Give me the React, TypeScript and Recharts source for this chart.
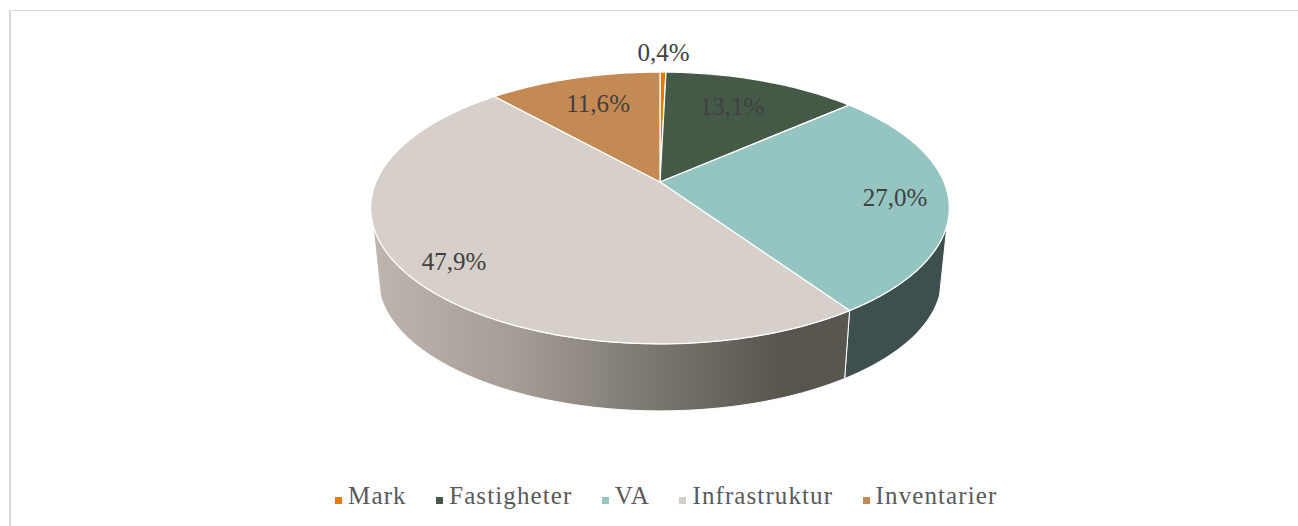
import React from 'react';
import { PieChart, Pie, Legend } from 'recharts';

const categories = ['Mark', 'Fastigheter', 'VA', 'Infrastruktur', 'Inventarier'];
const shares = [0.4, 13.1, 27.0, 47.9, 11.6];
const topColors = ['#e47a00', '#445a46', '#95c5c1', '#d7cfc9', '#c48a53'];
const wallColors = ['#8a4a00', '#2a382b', '#3d4f4e', 'url(#infraWall)', '#7d5b35'];
// where each label sits: fraction of the radius, and degrees off the slice middle
const labelRadius = [1.224, 0.712, 0.818, 0.846, 0.716];
const labelTurn = [0, -1.4, 0.7, -1.8, 0.8];

const FONT = '"Liberation Serif", serif';
const TILT = -0.191; // perspective of the tilted disc
const FLATTEN = 0.461;
const DEPTH_SCALE = 0.974; // bottom rim is a bit further away
const VANISH_Y = 2923;
const WALL_FROM = 108; // only this part of the side is visible
const WALL_TO = 252;

const tableData = categories.map((name, i) => ({ name, value: shares[i], fill: topColors[i] }));

// pie plane -> screen, theta is degrees clockwise from 12 o'clock
const project = (cx: number, cy: number, r: number, theta: number, f = 1) => {
    const rad = (theta * Math.PI) / 180;
    const v = Math.sin(rad) * f;
    const u = -Math.cos(rad) * f;
    const d = 1 + TILT * u;
    return { x: cx + (r * v) / d, y: cy + (r * FLATTEN * u) / d };
};

const rim = (p: any, from: number, to: number) => {
    const pts = [];
    const steps = Math.max(2, Math.ceil(to - from));
    for (let i = 0; i <= steps; i++) {
        pts.push(project(p.cx, p.cy, p.outerRadius, from + ((to - from) * i) / steps));
    }
    return pts;
};

const TopFace = (p: any) => {
    const pts = rim(p, 90 - p.startAngle, 90 - p.endAngle);
    const d = `M${p.cx},${p.cy} ` + pts.map((q) => `L${q.x},${q.y}`).join(' ') + ' Z';
    return <path d={d} fill={p.fill} stroke="#fff" strokeWidth={1.25} strokeLinejoin="round" />;
};

const WallFace = (p: any) => {
    const from = Math.max(90 - p.startAngle, WALL_FROM);
    const to = Math.min(90 - p.endAngle, WALL_TO);
    if (to <= from) return <g />;
    const pts = rim(p, from, to);
    const lower = pts
        .map((q) => ({
            x: p.cx + DEPTH_SCALE * (q.x - p.cx),
            y: VANISH_Y + DEPTH_SCALE * (q.y - VANISH_Y),
        }))
        .reverse();
    const d = 'M' + [...pts, ...lower].map((q) => `${q.x},${q.y}`).join(' L') + ' Z';
    return <path d={d} fill={wallColors[p.index]} stroke="#fff" strokeWidth={1} strokeLinejoin="round" />;
};

const renderLabel = (p: any) => {
    const pos = project(p.cx, p.cy, p.outerRadius, 90 - p.midAngle + labelTurn[p.index], labelRadius[p.index]);
    return (
        <text
            x={pos.x}
            y={pos.y}
            textAnchor="middle"
            dominantBaseline="central"
            fontFamily={FONT}
            fontSize={25}
            fill="#404040"
        >
            {shares[p.index].toFixed(1).replace('.', ',')}%
        </text>
    );
};

const legendText = (value: string) => (
    <span style={{ color: '#595959', fontFamily: FONT, fontSize: 25, letterSpacing: 1.1, marginLeft: 2, marginRight: 19.5 }}>
        {value}
    </span>
);

export default function App() {
    return (
        <div style={{ position: 'absolute', left: 0, top: 0, width: 1298, height: 526, background: '#fff', overflow: 'hidden' }}>
            <div
                style={{
                    position: 'absolute',
                    left: 9,
                    top: 10,
                    width: 1289,
                    height: 516,
                    boxSizing: 'border-box',
                    borderLeft: '2px solid #d9d9d9',
                    borderTop: '1.5px solid #d9d9d9',
                }}
            />
            <div style={{ position: 'absolute', left: 0, top: 0 }}>
                <PieChart width={1298} height={526} margin={{ top: 0, right: 0, bottom: 0, left: 0 }}>
                    <defs>
                        <linearGradient id="infraWall" x1="0" y1="0" x2="1" y2="0">
                            <stop offset="0" stopColor="#bdb5ae" />
                            <stop offset="0.3" stopColor="#a49d96" />
                            <stop offset="0.6" stopColor="#7a756f" />
                            <stop offset="0.87" stopColor="#57534d" />
                            <stop offset="1" stopColor="#5a5751" />
                        </linearGradient>
                    </defs>
                    <Pie
                        data={tableData}
                        dataKey="value"
                        nameKey="name"
                        cx={660}
                        cy={182}
                        outerRadius={284}
                        startAngle={90}
                        endAngle={-270}
                        legendType="none"
                        shape={WallFace}
                        isAnimationActive={false}
                    />
                    <Pie
                        data={tableData}
                        dataKey="value"
                        nameKey="name"
                        cx={660}
                        cy={182}
                        outerRadius={284}
                        startAngle={90}
                        endAngle={-270}
                        shape={TopFace}
                        label={renderLabel}
                        labelLine={false}
                        isAnimationActive={false}
                    />
                    <Legend
                        verticalAlign="bottom"
                        align="center"
                        iconType="square"
                        iconSize={7}
                        itemSorter={null}
                        formatter={legendText}
                        wrapperStyle={{ left: 32, width: 1298, bottom: 16 }}
                    />
                </PieChart>
            </div>
        </div>
    );
}
